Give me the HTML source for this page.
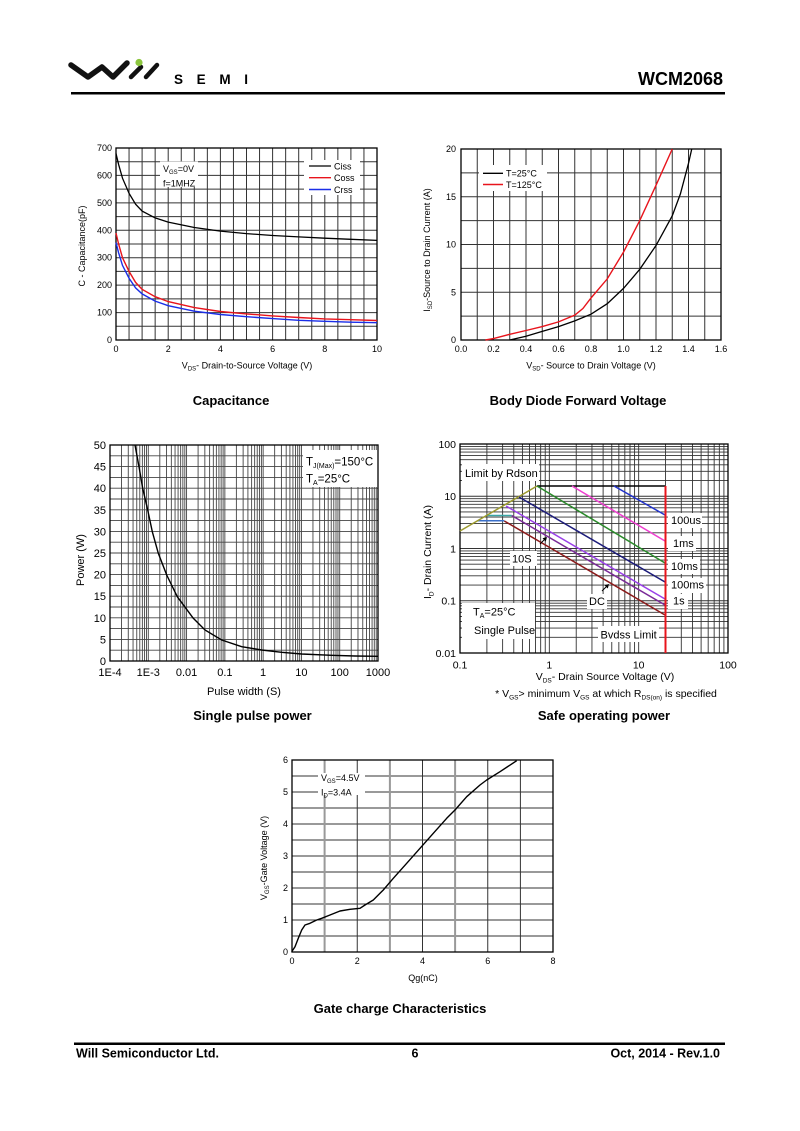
<!DOCTYPE html>
<html><head><meta charset="utf-8">
<style>
html,body{margin:0;padding:0;background:#fff;}
svg{display:block;}
text{font-family:"Liberation Sans",Arial,sans-serif;fill:#000;}
.b{font-weight:bold;}
</style></head>
<body>
<svg width="800" height="1131" viewBox="0 0 800 1131" xmlns="http://www.w3.org/2000/svg">
<rect width="800" height="1131" fill="#fff"/>

<!-- ===== HEADER ===== -->
<path d="M71,65 L88,77 L102,67 L113,77 L127,63" stroke="#111" stroke-width="5.5" fill="none" stroke-linejoin="round" stroke-linecap="round"/>
<path d="M131,77 L141,67 M146,77 L157,65" stroke="#111" stroke-width="4.5" fill="none" stroke-linecap="round"/>
<circle cx="139" cy="62.5" r="3.6" fill="#8cc63e"/>
<text x="174" y="84" font-size="13.5" font-weight="bold" fill="#222" textLength="74" lengthAdjust="spacing">SEMI</text>
<text x="723" y="85" text-anchor="end" font-size="18" class="b">WCM2068</text>
<rect x="71" y="92" width="654" height="2.5" fill="#000"/>

<!-- ===== CAPACITANCE ===== -->
<g>
<path stroke="#333" stroke-width="1" fill="none" d="
M129.05,148V340M142.1,148V340M155.15,148V340M168.2,148V340M181.25,148V340M194.3,148V340M207.35,148V340M220.4,148V340M233.45,148V340M246.5,148V340M259.55,148V340M272.6,148V340M285.65,148V340M298.7,148V340M311.75,148V340M324.8,148V340M337.85,148V340M350.9,148V340M363.95,148V340
M116,161.71H377M116,175.43H377M116,189.14H377M116,202.86H377M116,216.57H377M116,230.29H377M116,244H377M116,257.71H377M116,271.43H377M116,285.14H377M116,298.86H377M116,312.57H377M116,326.29H377"/>
<rect x="160" y="161.5" width="38" height="25.5" fill="#fff"/>
<rect x="304" y="160" width="56" height="35" fill="#fff"/>
<rect x="116" y="148" width="261" height="192" fill="none" stroke="#000" stroke-width="1.3"/>
<polyline fill="none" stroke="#000" stroke-width="1.3" points="116,153.5 118.6,164.4 122.5,178.2 129.05,193.3 135.6,204.2 142.1,211.1 155.15,217.9 168.2,222.1 194.3,227.5 220.4,231.1 246.5,233.6 272.6,235.5 298.7,236.9 324.8,238.2 350.9,239.3 377,240.4"/>
<polyline fill="none" stroke="#e8141c" stroke-width="1.4" points="116,233 118.6,244 122.5,257.7 129.05,271.4 135.6,282.4 142.1,289.3 155.15,296.7 168.2,301.6 194.3,307.6 220.4,311.5 246.5,313.9 272.6,315.9 298.7,317.5 324.8,318.9 350.9,319.7 377,320.5"/>
<polyline fill="none" stroke="#1a2ee8" stroke-width="1.4" points="116,242.6 118.6,252.8 122.5,265.4 129.05,278.3 135.6,287.9 142.1,293.9 155.15,301.1 168.2,305.7 194.3,311.2 220.4,314.5 246.5,316.7 272.6,318.6 298.7,320.3 324.8,321.3 350.9,322.2 377,322.7"/>
<g font-size="9">
<text x="163" y="172">V<tspan font-size="6" dy="2">GS</tspan><tspan dy="-2">=0V</tspan></text>
<text x="163" y="186.5">f=1MHZ</text>
<line x1="309" y1="166" x2="331" y2="166" stroke="#000" stroke-width="1.3"/>
<text x="334" y="169.5">Ciss</text>
<line x1="309" y1="177.7" x2="331" y2="177.7" stroke="#e8141c" stroke-width="1.4"/>
<text x="334" y="181">Coss</text>
<line x1="309" y1="189.5" x2="331" y2="189.5" stroke="#1a2ee8" stroke-width="1.4"/>
<text x="334" y="193">Crss</text>
</g>
<g font-size="9" text-anchor="end">
<text x="112" y="151">700</text><text x="112" y="178.4">600</text><text x="112" y="205.9">500</text><text x="112" y="233.3">400</text><text x="112" y="260.7">300</text><text x="112" y="288.1">200</text><text x="112" y="315.6">100</text><text x="112" y="343">0</text>
</g>
<g font-size="9" text-anchor="middle">
<text x="116" y="352">0</text><text x="168.2" y="352">2</text><text x="220.4" y="352">4</text><text x="272.6" y="352">6</text><text x="324.8" y="352">8</text><text x="377" y="352">10</text>
<text x="247" y="368.5">V<tspan font-size="6" dy="2">DS</tspan><tspan dy="-2">- Drain-to-Source Voltage (V)</tspan></text>
</g>
<text transform="translate(85,246) rotate(-90)" font-size="9" text-anchor="middle">C - Capacitance(pF)</text>
<text x="231" y="405" font-size="13" class="b" text-anchor="middle">Capacitance</text>
</g>

<!-- ===== BODY DIODE ===== -->
<g>
<path stroke="#333" stroke-width="1" fill="none" d="
M477.25,149V340M493.5,149V340M509.75,149V340M526,149V340M542.25,149V340M558.5,149V340M574.75,149V340M591,149V340M607.25,149V340M623.5,149V340M639.75,149V340M656,149V340M672.25,149V340M688.5,149V340M704.75,149V340
M461,172.875H721M461,196.75H721M461,220.625H721M461,244.5H721M461,268.375H721M461,292.25H721M461,316.125H721"/>
<rect x="479" y="165" width="68" height="26" fill="#fff"/>
<rect x="461" y="149" width="260" height="191" fill="none" stroke="#000" stroke-width="1.3"/>
<polyline fill="none" stroke="#000" stroke-width="1.3" points="509.75,340 526,336.2 542.25,331.4 558.5,326.6 574.75,320.9 591,314.2 607.25,303.7 623.5,288.4 639.75,269.3 656,245.5 672.25,215.8 680.4,193.9 688.5,163.3 691.75,149"/>
<polyline fill="none" stroke="#e8141c" stroke-width="1.4" points="485.4,340 493.5,338.6 509.75,334.3 526,330.5 542.25,326.6 558.5,321.9 574.75,315.2 582.9,308.5 591,298 607.25,278.9 623.5,252.1 639.75,220.6 656,185.3 672.25,149"/>
<g font-size="9">
<line x1="483" y1="173.3" x2="503" y2="173.3" stroke="#000" stroke-width="1.3"/>
<text x="506" y="176.5">T=25°C</text>
<line x1="483" y1="184.5" x2="503" y2="184.5" stroke="#e8141c" stroke-width="1.4"/>
<text x="506" y="187.8">T=125°C</text>
</g>
<g font-size="9" text-anchor="end">
<text x="456" y="152">20</text><text x="456" y="199.8">15</text><text x="456" y="247.5">10</text><text x="456" y="295.3">5</text><text x="456" y="343">0</text>
</g>
<g font-size="9" text-anchor="middle">
<text x="461" y="352">0.0</text><text x="493.5" y="352">0.2</text><text x="526" y="352">0.4</text><text x="558.5" y="352">0.6</text><text x="591" y="352">0.8</text><text x="623.5" y="352">1.0</text><text x="656" y="352">1.2</text><text x="688.5" y="352">1.4</text><text x="721" y="352">1.6</text>
<text x="591" y="368.5">V<tspan font-size="6" dy="2">SD</tspan><tspan dy="-2">- Source to Drain Voltage (V)</tspan></text>
</g>
<text transform="translate(430,250) rotate(-90)" font-size="9" text-anchor="middle">I<tspan font-size="6" dy="2">SD</tspan><tspan dy="-2">-Source to Drain Current (A)</tspan></text>
<text x="578" y="405" font-size="13" class="b" text-anchor="middle">Body Diode Forward Voltage</text>
</g>

<!-- ===== SINGLE PULSE POWER ===== -->
<g>
<path stroke="#444" stroke-width="0.9" fill="none" d="
M121.52,445V661M128.27,445V661M133.05,445V661M136.76,445V661M139.79,445V661M142.36,445V661M144.57,445V661M146.53,445V661
M148.29,445V661M159.81,445V661M166.56,445V661M171.34,445V661M175.05,445V661M178.08,445V661M180.65,445V661M182.86,445V661M184.82,445V661
M186.57,445V661M198.09,445V661M204.84,445V661M209.62,445V661M213.33,445V661M216.36,445V661M218.93,445V661M221.14,445V661M223.1,445V661
M224.86,445V661M236.38,445V661M243.13,445V661M247.91,445V661M251.62,445V661M254.65,445V661M257.22,445V661M259.43,445V661M261.39,445V661
M263.14,445V661M274.66,445V661M281.41,445V661M286.19,445V661M289.9,445V661M292.93,445V661M295.5,445V661M297.71,445V661M299.67,445V661
M301.43,445V661M312.95,445V661M319.7,445V661M324.48,445V661M328.19,445V661M331.22,445V661M333.79,445V661M336,445V661M337.96,445V661
M339.71,445V661M351.23,445V661M357.98,445V661M362.76,445V661M366.47,445V661M369.5,445V661M372.07,445V661M374.28,445V661M376.24,445V661
M110,455.8H378M110,466.6H378M110,477.4H378M110,488.2H378M110,499H378M110,509.8H378M110,520.6H378M110,531.4H378M110,542.2H378M110,553H378M110,563.8H378M110,574.6H378M110,585.4H378M110,596.2H378M110,607H378M110,617.8H378M110,628.6H378M110,639.4H378M110,650.2H378"/>
<rect x="303" y="450" width="75" height="37" fill="#fff"/>
<rect x="110" y="445" width="268" height="216" fill="none" stroke="#000" stroke-width="1.3"/>
<polyline fill="none" stroke="#000" stroke-width="1.4" points="135,445 139,466.7 142.7,488.3 147.7,510 152.3,531.7 158.3,553.3 166.7,575 177.3,596.7 193.3,618.3 205,630 221.7,640 241.7,646.7 261.7,650 281.7,652.3 301.7,654 331.7,655.3 355,656 378,656.3"/>
<g font-size="11.5">
<text x="306" y="465.5">T<tspan font-size="7" dy="2.5">J(Max)</tspan><tspan dy="-2.5">=150°C</tspan></text>
<text x="306" y="482.5">T<tspan font-size="7" dy="2.5">A</tspan><tspan dy="-2.5">=25°C</tspan></text>
</g>
<g font-size="11" text-anchor="end">
<text x="106" y="449">50</text><text x="106" y="470.6">45</text><text x="106" y="492.2">40</text><text x="106" y="513.8">35</text><text x="106" y="535.4">30</text><text x="106" y="557">25</text><text x="106" y="578.6">20</text><text x="106" y="600.2">15</text><text x="106" y="621.8">10</text><text x="106" y="643.4">5</text><text x="106" y="665">0</text>
</g>
<g font-size="11" text-anchor="middle">
<text x="110" y="676">1E-4</text><text x="148.3" y="676">1E-3</text><text x="186.6" y="676">0.01</text><text x="224.9" y="676">0.1</text><text x="263.1" y="676">1</text><text x="301.4" y="676">10</text><text x="339.7" y="676">100</text><text x="378" y="676">1000</text>
<text x="244" y="695">Pulse width (S)</text>
</g>
<text transform="translate(84,560) rotate(-90)" font-size="11" text-anchor="middle">Power (W)</text>
<text x="252.5" y="720" font-size="13" class="b" text-anchor="middle">Single pulse power</text>
</g>

<!-- ===== SAFE OPERATING AREA ===== -->
<g>
<path stroke="#333" stroke-width="0.9" fill="none" d="
M486.89,444V653M502.62,444V653M513.78,444V653M522.44,444V653M529.51,444V653M535.49,444V653M540.67,444V653M545.24,444V653
M549.33,444V653M576.22,444V653M591.95,444V653M603.11,444V653M611.77,444V653M618.84,444V653M624.82,444V653M630,444V653M634.57,444V653
M638.67,444V653M665.56,444V653M681.29,444V653M692.45,444V653M701.11,444V653M708.18,444V653M714.16,444V653M719.34,444V653M723.91,444V653
M460,637.27H728M460,628.07H728M460,621.54H728M460,616.48H728M460,612.34H728M460,608.84H728M460,605.81H728M460,603.14H728
M460,600.75H728M460,585.02H728M460,575.82H728M460,569.29H728M460,564.23H728M460,560.09H728M460,556.59H728M460,553.56H728M460,550.89H728
M460,548.5H728M460,532.77H728M460,523.57H728M460,517.04H728M460,511.98H728M460,507.84H728M460,504.34H728M460,501.31H728M460,498.64H728
M460,496.25H728M460,480.52H728M460,471.32H728M460,464.79H728M460,459.73H728M460,455.59H728M460,452.09H728M460,449.06H728M460,446.39H728"/>
<g fill="#fff">
<rect x="462" y="464" width="77" height="17"/>
<rect x="510" y="551" width="27" height="15"/>
<rect x="587" y="594" width="20" height="15"/>
<rect x="598" y="626" width="61" height="16"/>
<rect x="462" y="603" width="73" height="36"/>
<rect x="668" y="513" width="34" height="15"/>
<rect x="668" y="536" width="28" height="15"/>
<rect x="668" y="559" width="32" height="15"/>
<rect x="668" y="578" width="38" height="15"/>
<rect x="668" y="594" width="20" height="15"/>
</g>
<rect x="460" y="444" width="268" height="209" fill="none" stroke="#000" stroke-width="1.3"/>
<g fill="none" stroke-width="1.5">
<line x1="477" y1="520.7" x2="504.3" y2="520.7" stroke="#3a6fc8"/>
<line x1="486" y1="515.5" x2="511.7" y2="515.5" stroke="#3aa6a6"/>
<line x1="460" y1="531" x2="537" y2="486" stroke="#9c9a2e"/>
<line x1="537" y1="486" x2="665" y2="486" stroke="#000"/>
<line x1="614" y1="486" x2="665" y2="515" stroke="#2233cc"/>
<line x1="572" y1="486" x2="665" y2="541" stroke="#ee3fd0"/>
<line x1="537" y1="486" x2="665" y2="563" stroke="#2a8a2a"/>
<line x1="519" y1="497" x2="665" y2="582" stroke="#1c1c7a"/>
<line x1="506" y1="506" x2="665" y2="599" stroke="#9a40e8"/>
<line x1="511.7" y1="515.5" x2="665" y2="605" stroke="#7a2a98"/>
<line x1="504.3" y1="521" x2="665" y2="615" stroke="#8b1a1a"/>
<line x1="665.5" y1="486" x2="665.5" y2="653" stroke="#e8141c" stroke-width="2"/>
</g>
<path d="M540,544 L545.5,538.5" stroke="#000" stroke-width="1"/>
<path d="M547,537 L542.5,538.2 L545.8,541.5 Z" fill="#000"/>
<path d="M602,591 L607.5,585.5" stroke="#000" stroke-width="1"/>
<path d="M609,584 L604.5,585.2 L607.8,588.5 Z" fill="#000"/>
<g font-size="11">
<text x="465" y="477">Limit by Rdson</text>
<text x="512" y="562.5">10S</text>
<text x="589" y="605">DC</text>
<text x="600.5" y="638.5">Bvdss Limit</text>
<text x="473" y="615.5">T<tspan font-size="7" dy="2.5">A</tspan><tspan dy="-2.5">=25°C</tspan></text>
<text x="474" y="634">Single Pulse</text>
<text x="671" y="524">100us</text>
<text x="673" y="547">1ms</text>
<text x="671" y="570">10ms</text>
<text x="671" y="588.5">100ms</text>
<text x="673" y="604.5">1s</text>
</g>
<g font-size="10.5" text-anchor="end">
<text x="456" y="448">100</text><text x="456" y="500">10</text><text x="456" y="552.5">1</text><text x="456" y="604.7">0.1</text><text x="456" y="657">0.01</text>
</g>
<g font-size="10.5" text-anchor="middle">
<text x="460" y="668.5">0.1</text><text x="549.3" y="668.5">1</text><text x="638.7" y="668.5">10</text><text x="728" y="668.5">100</text>
<text x="605" y="680">V<tspan font-size="6.5" dy="2.5">DS</tspan><tspan dy="-2.5">- Drain Source Voltage (V)</tspan></text>
<text x="606" y="697">* V<tspan font-size="6.5" dy="2.5">GS</tspan><tspan dy="-2.5">&gt; minimum V</tspan><tspan font-size="6.5" dy="2.5">GS</tspan><tspan dy="-2.5"> at which R</tspan><tspan font-size="6.5" dy="2.5">DS(on)</tspan><tspan dy="-2.5"> is specified</tspan></text>
</g>
<text transform="translate(431,552) rotate(-90)" font-size="10.5" text-anchor="middle">I<tspan font-size="6.5" dy="2.5">D</tspan><tspan dy="-2.5">- Drain Current (A)</tspan></text>
<text x="604" y="720" font-size="13" class="b" text-anchor="middle">Safe operating power</text>
</g>

<!-- ===== GATE CHARGE ===== -->
<g>
<path stroke="#333" stroke-width="1" fill="none" d="
M357.25,760V952M422.5,760V952M487.75,760V952M520.4,760V952
M292,936H553M292,920H553M292,904H553M292,888H553M292,872H553M292,856H553M292,840H553M292,824H553M292,808H553M292,792H553M292,776H553"/>
<path stroke="#999" stroke-width="2" fill="none" d="M324.6,760V952M389.9,760V952M455.1,760V952"/>
<rect x="318" y="773" width="47" height="22" fill="#fff"/>
<rect x="292" y="760" width="261" height="192" fill="none" stroke="#000" stroke-width="1.3"/>
<polyline fill="none" stroke="#000" stroke-width="1.4" stroke-linejoin="round" points="291.7,951.7 295,946.7 298.3,938.3 301.7,930 305,925 310,923.3 316.7,920 321.7,918.3 330,915 340,911 350,909.3 360,908.3 365,905 373.3,900 383.3,890 393.3,878.3 406.7,863.3 420,848.3 433.3,833.3 446.7,818.3 455,810 466.7,796.7 480,785 486.7,780 500,771.7 516.7,760.7"/>
<g font-size="9">
<text x="321" y="781">V<tspan font-size="6" dy="2">GS</tspan><tspan dy="-2">=4.5V</tspan></text>
<text x="321" y="795.5">I<tspan font-size="6" dy="2">D</tspan><tspan dy="-2">=3.4A</tspan></text>
</g>
<g font-size="9" text-anchor="end">
<text x="288" y="763">6</text><text x="288" y="795">5</text><text x="288" y="827">4</text><text x="288" y="859">3</text><text x="288" y="891">2</text><text x="288" y="923">1</text><text x="288" y="955">0</text>
</g>
<g font-size="9" text-anchor="middle">
<text x="292" y="964">0</text><text x="357.25" y="964">2</text><text x="422.5" y="964">4</text><text x="487.75" y="964">6</text><text x="553" y="964">8</text>
<text x="423" y="981">Qg(nC)</text>
</g>
<text transform="translate(267,858) rotate(-90)" font-size="9" text-anchor="middle">V<tspan font-size="6" dy="2">GS</tspan><tspan dy="-2">-Gate Voltage (V)</tspan></text>
<text x="400" y="1013" font-size="13" class="b" text-anchor="middle">Gate charge Characteristics</text>
</g>

<!-- ===== FOOTER ===== -->
<rect x="74" y="1042.5" width="651" height="2.5" fill="#000"/>
<text x="76" y="1057.5" font-size="12.5" class="b">Will Semiconductor Ltd.</text>
<text x="415" y="1057.5" font-size="12.5" class="b" text-anchor="middle">6</text>
<text x="720" y="1057.5" font-size="12.5" class="b" text-anchor="end">Oct, 2014 - Rev.1.0</text>
</svg>
</body></html>
